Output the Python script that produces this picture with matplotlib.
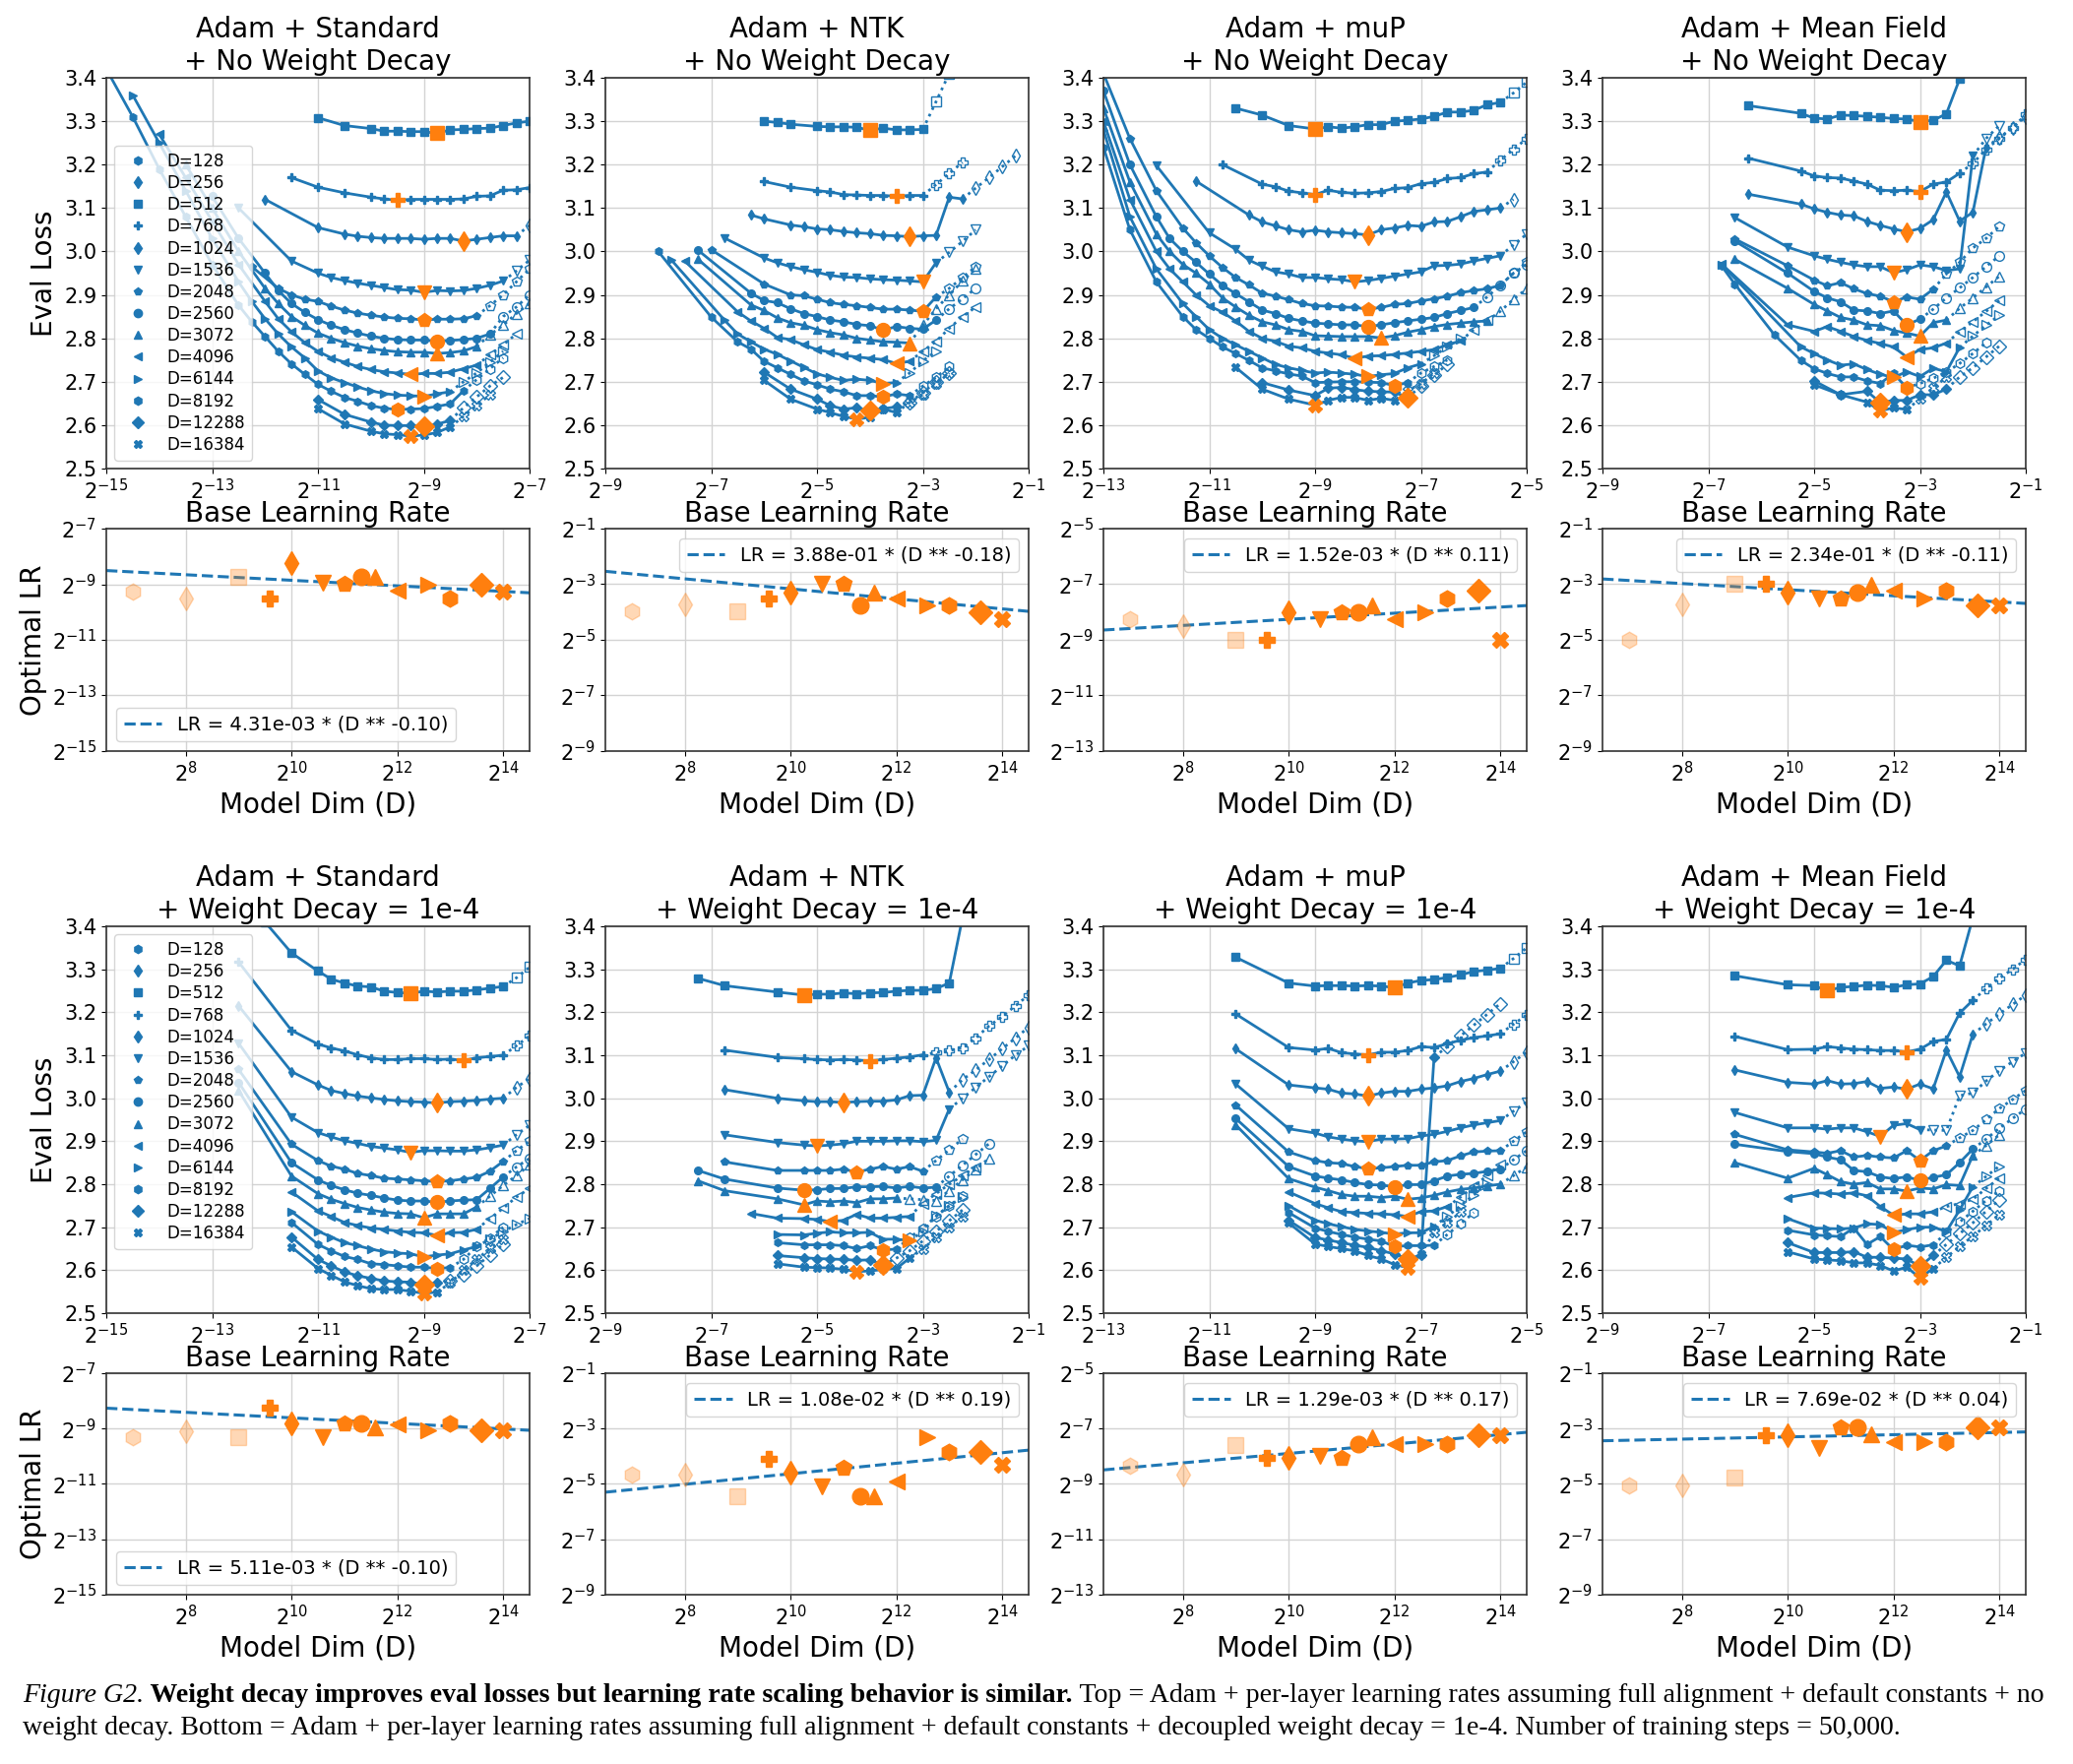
import numpy as np
import matplotlib.pyplot as plt
from matplotlib.lines import Line2D
from matplotlib.ticker import FixedLocator, FuncFormatter, NullLocator

# model dims and their markers
dims = [128, 256, 512, 768, 1024, 1536, 2048, 2560, 3072, 4096, 6144, 8192, 12288, 16384]
markers = ['h', 'd', 's', 'P', 'd', 'v', 'p', 'o', '^', '<', '>', 'h', 'D', 'X']
curve_markers = markers[2:]          # loss curves are shown for D >= 512

param_names = ['Standard', 'NTK', 'muP', 'Mean Field']
wd_names = ['No Weight Decay', 'Weight Decay = 1e-4']
log2_range = [(-15, -7), (-9, -1), (-13, -5), (-9, -1)]

# Loss sweeps. Each curve: (leading log2 LRs, eval losses, losses of the dotted/unstable runs).
# LRs after the leading ones go up in steps of 2**0.25, dotted runs continue the same way.
std_nowd = [
    ([-11, -10.5, -10], [3.308, 3.29, 3.283, 3.277, 3.277, 3.276, 3.276, 3.272, 3.28, 3.281, 3.283, 3.284, 3.29, 3.296, 3.30], []),
    ([-11.5, -11, -10.5, -10], [3.17, 3.148, 3.135, 3.125, 3.121, 3.118, 3.12, 3.12, 3.12, 3.12, 3.121, 3.127, 3.128, 3.141, 3.142, 3.147], []),
    ([-12, -11, -10.5], [3.12, 3.055, 3.04, 3.035, 3.032, 3.03, 3.03, 3.03, 3.028, 3.03, 3.03, 3.024, 3.028, 3.032, 3.036, 3.036], [3.06]),
    ([-12.5, -11.5, -11], [3.1, 2.978, 2.95, 2.94, 2.933, 2.927, 2.922, 2.917, 2.912, 2.911, 2.906, 2.91, 2.909, 2.91, 2.915, 2.922, 2.932], [2.955, 2.98]),
    ([-12.25, -11.75], [2.965, 2.915, 2.9, 2.89, 2.885, 2.874, 2.865, 2.858, 2.853, 2.849, 2.846, 2.845, 2.842, 2.844, 2.844, 2.845, 2.852], [2.875, 2.9, 2.93, 2.96]),
    ([-13, -12.5, -12], [3.127, 3.03, 2.95, 2.91, 2.88, 2.86, 2.843, 2.83, 2.82, 2.812, 2.805, 2.8, 2.797, 2.796, 2.796, 2.793, 2.795, 2.797, 2.8, 2.81], [2.85, 2.872, 2.9]),
    ([-13.5, -13, -12.5, -12], [3.2, 3.1, 3.0, 2.915, 2.88, 2.85, 2.83, 2.812, 2.8, 2.79, 2.782, 2.776, 2.772, 2.769, 2.768, 2.768, 2.765, 2.767, 2.771, 2.781], [2.808, 2.83, 2.857, 2.88]),
    ([-14, -13.5, -13, -12.5, -12], [3.27, 3.17, 3.07, 2.97, 2.885, 2.845, 2.815, 2.79, 2.77, 2.755, 2.745, 2.735, 2.728, 2.723, 2.72, 2.717, 2.719, 2.719, 2.722, 2.73, 2.738], [2.762, 2.785, 2.81]),
    ([-14.5, -14, -13.5, -13, -12.5], [3.36, 3.25, 3.14, 3.03, 2.93, 2.885, 2.845, 2.81, 2.78, 2.755, 2.725, 2.709, 2.698, 2.688, 2.679, 2.673, 2.669, 2.668, 2.666, 2.672, 2.677], [2.70, 2.72, 2.745, 2.77]),
    ([-15, -14.5, -14, -13.5, -13, -12.5], [3.42, 3.31, 3.19, 3.08, 2.97, 2.876, 2.838, 2.804, 2.77, 2.741, 2.717, 2.694, 2.678, 2.664, 2.655, 2.645, 2.639, 2.636, 2.637, 2.638, 2.643, 2.649, 2.679], [2.705, 2.73, 2.755]),
    ([-11, -10.5, -10], [2.659, 2.625, 2.607, 2.6, 2.599, 2.599, 2.597, 2.602, 2.611], [2.64, 2.665, 2.69, 2.71]),
    ([-11, -10.5, -10], [2.638, 2.603, 2.586, 2.58, 2.578, 2.575, 2.577, 2.583, 2.596], [2.62, 2.645, 2.67]),
]
ntk_nowd = [
    ([-6, -5.75, -5.5, -5], [3.30, 3.297, 3.293, 3.288, 3.287, 3.287, 3.286, 3.279, 3.284, 3.28, 3.28, 3.281], [3.345, 3.41]),
    ([-6, -5.5, -5], [3.161, 3.148, 3.14, 3.137, 3.131, 3.13, 3.129, 3.129, 3.127, 3.129, 3.129], [3.154, 3.18, 3.205]),
    ([-6.25, -6, -5.5], [3.084, 3.075, 3.061, 3.057, 3.052, 3.05, 3.046, 3.043, 3.041, 3.037, 3.036, 3.034, 3.036, 3.037, 3.125, 3.121], [3.146, 3.17, 3.195, 3.22]),
    ([-6.75, -6], [3.031, 2.985, 2.974, 2.965, 2.958, 2.952, 2.945, 2.941, 2.94, 2.937, 2.935, 2.934, 2.932, 2.93, 2.974], [2.998, 3.023, 3.05]),
    ([-7, -6, -5.5], [3.004, 2.925, 2.90, 2.898, 2.89, 2.882, 2.878, 2.875, 2.871, 2.867, 2.867, 2.865, 2.862, 2.895], [2.915, 2.94, 2.965]),
    ([-7.25, -6.25], [3.003, 2.904, 2.887, 2.882, 2.868, 2.857, 2.85, 2.842, 2.838, 2.832, 2.829, 2.819, 2.827, 2.823, 2.821, 2.842], [2.868, 2.891, 2.915]),
    ([-7.25, -6.25], [2.982, 2.877, 2.864, 2.847, 2.836, 2.83, 2.82, 2.813, 2.808, 2.8, 2.796, 2.792, 2.791, 2.789], [2.83, 2.868, 2.90, 2.932, 2.96]),
    ([-7.5, -6.5], [2.978, 2.861, 2.84, 2.823, 2.802, 2.797, 2.785, 2.774, 2.768, 2.761, 2.757, 2.754, 2.751, 2.742, 2.747], [2.77, 2.793, 2.823, 2.85, 2.872]),
    ([-7.75, -6.75], [2.98, 2.842, 2.81, 2.792, 2.775, 2.763, 2.748, 2.733, 2.718, 2.71, 2.703, 2.706, 2.703, 2.696, 2.698], [2.72, 2.748, 2.77]),
    ([-8, -7, -6.5], [3.0, 2.849, 2.792, 2.775, 2.747, 2.732, 2.717, 2.702, 2.693, 2.683, 2.677, 2.668, 2.668, 2.665, 2.672, 2.668], [2.69, 2.71, 2.735]),
    ([-6, -5.5, -5], [2.722, 2.683, 2.66, 2.645, 2.637, 2.64, 2.633, 2.638, 2.642], [2.652, 2.675, 2.70, 2.72]),
    ([-6, -5.5, -5], [2.703, 2.66, 2.637, 2.629, 2.62, 2.614, 2.618, 2.637, 2.629], [2.652, 2.67, 2.695, 2.72]),
]
mup_nowd = [
    ([-10.5, -10, -9.5, -9], [3.33, 3.314, 3.29, 3.282, 3.287, 3.284, 3.287, 3.292, 3.292, 3.30, 3.302, 3.305, 3.311, 3.321, 3.321, 3.325, 3.338, 3.343], [3.365, 3.39]),
    ([-10.75, -10], [3.20, 3.155, 3.149, 3.139, 3.135, 3.131, 3.141, 3.136, 3.134, 3.135, 3.138, 3.145, 3.147, 3.156, 3.159, 3.168, 3.17, 3.179, 3.183], [3.21, 3.235, 3.26]),
    ([-11.25, -10.25], [3.162, 3.084, 3.068, 3.059, 3.05, 3.045, 3.049, 3.045, 3.043, 3.041, 3.038, 3.05, 3.054, 3.06, 3.058, 3.068, 3.069, 3.08, 3.092, 3.096, 3.10], [3.12]),
    ([-12, -11, -10.5], [3.198, 3.043, 3.005, 2.98, 2.966, 2.953, 2.948, 2.94, 2.94, 2.937, 2.935, 2.93, 2.933, 2.938, 2.943, 2.948, 2.953, 2.967, 2.968, 2.971, 2.978, 2.984, 2.99], [3.015, 3.04]),
    ([-13, -12.5, -12, -11.5], [3.41, 3.26, 3.14, 3.054, 3.02, 2.99, 2.963, 2.94, 2.923, 2.904, 2.897, 2.889, 2.88, 2.875, 2.874, 2.872, 2.871, 2.867, 2.871, 2.878, 2.88, 2.886, 2.891, 2.897, 2.905, 2.91, 2.914, 2.922], [2.95, 2.975]),
    ([-13, -12.5, -12], [3.37, 3.2, 3.08, 3.03, 3.0, 2.975, 2.948, 2.922, 2.903, 2.884, 2.865, 2.857, 2.846, 2.84, 2.835, 2.833, 2.831, 2.831, 2.827, 2.831, 2.836, 2.84, 2.844, 2.848, 2.857, 2.864, 2.871], [2.895, 2.922, 2.95, 2.97]),
    ([-13, -12.5, -12], [3.33, 3.16, 3.04, 3.0, 2.97, 2.95, 2.925, 2.893, 2.872, 2.853, 2.838, 2.831, 2.82, 2.816, 2.806, 2.805, 2.804, 2.804, 2.804, 2.801, 2.806, 2.814, 2.82, 2.827, 2.832, 2.835, 2.838, 2.84], [2.862, 2.89, 2.914]),
    ([-13, -12.5, -12], [3.3, 3.12, 3.0, 2.96, 2.93, 2.9, 2.875, 2.86, 2.84, 2.816, 2.8, 2.793, 2.782, 2.778, 2.77, 2.766, 2.762, 2.754, 2.759, 2.76, 2.763, 2.766, 2.77, 2.774, 2.785, 2.794], [2.82, 2.842]),
    ([-13, -12.5, -12, -11.5], [3.28, 3.08, 2.96, 2.88, 2.85, 2.82, 2.8, 2.785, 2.77, 2.755, 2.74, 2.732, 2.726, 2.72, 2.722, 2.72, 2.717, 2.712, 2.716, 2.719, 2.732, 2.741], [2.76, 2.78, 2.80]),
    ([-13, -12.5, -12, -11.5], [3.24, 3.05, 2.93, 2.85, 2.82, 2.8, 2.78, 2.765, 2.749, 2.732, 2.725, 2.718, 2.713, 2.698, 2.699, 2.7, 2.7, 2.699, 2.698, 2.691, 2.698], [2.72, 2.735, 2.75]),
    ([-10, -9.5, -9], [2.698, 2.681, 2.668, 2.685, 2.687, 2.682, 2.678, 2.677, 2.676, 2.663], [2.69, 2.715, 2.74]),
    ([-10.5, -10, -9.5, -9], [2.733, 2.683, 2.66, 2.646, 2.657, 2.664, 2.664, 2.657, 2.662, 2.657], [2.68, 2.695, 2.72]),
]
mf_nowd = [
    ([-6.25, -5.25], [3.336, 3.318, 3.307, 3.305, 3.314, 3.313, 3.311, 3.309, 3.306, 3.305, 3.299, 3.302, 3.317, 3.397, 3.48], []),
    ([-6.25, -5.25], [3.215, 3.185, 3.174, 3.17, 3.169, 3.162, 3.155, 3.141, 3.14, 3.141, 3.138, 3.155, 3.16, 3.18], [3.203, 3.235, 3.26, 3.285, 3.315]),
    ([-6.25, -5.25], [3.132, 3.109, 3.098, 3.09, 3.084, 3.082, 3.069, 3.06, 3.052, 3.045, 3.053, 3.073, 3.137, 3.07, 3.09, 3.24], [3.262, 3.285, 3.31]),
    ([-6.5, -5.5, -5], [3.078, 3.01, 2.99, 2.982, 2.975, 2.969, 2.965, 2.965, 2.951, 2.958, 2.969, 2.965, 2.956, 2.96, 3.22], [3.26, 3.29]),
    ([-6.5, -5.5, -5], [3.029, 2.967, 2.934, 2.921, 2.928, 2.914, 2.903, 2.897, 2.884, 2.895, 2.89, 2.913], [2.948, 2.975, 3.008, 3.03, 3.058]),
    ([-6.5, -5.5, -5], [3.024, 2.95, 2.908, 2.893, 2.884, 2.865, 2.863, 2.857, 2.863, 2.831, 2.844], [2.867, 2.893, 2.916, 2.94, 2.965, 2.99]),
    ([-6.5, -5.5, -5], [2.982, 2.915, 2.878, 2.863, 2.848, 2.842, 2.831, 2.829, 2.818, 2.812, 2.805, 2.836, 2.842], [2.869, 2.893, 2.918, 2.943]),
    ([-6.75, -5.5, -5], [2.971, 2.831, 2.816, 2.827, 2.816, 2.804, 2.795, 2.788, 2.78, 2.757, 2.774, 2.778, 2.789], [2.815, 2.838, 2.862, 2.887]),
    ([-6.75, -5.25], [2.97, 2.78, 2.765, 2.75, 2.738, 2.741, 2.728, 2.717, 2.71, 2.723, 2.712, 2.731, 2.723, 2.779], [2.805, 2.83, 2.853]),
    ([-6.75, -6.5, -5.75, -5.25], [2.967, 2.925, 2.808, 2.749, 2.73, 2.719, 2.711, 2.711, 2.702, 2.696, 2.719, 2.686], [2.696, 2.708, 2.722, 2.742, 2.765, 2.79]),
    ([-5, -4.5, -4], [2.702, 2.67, 2.678, 2.652, 2.657, 2.657, 2.67, 2.67, 2.683], [2.711, 2.732, 2.757, 2.782]),
    ([-5, -4.5, -4], [2.693, 2.67, 2.653, 2.633, 2.64, 2.636], [2.66, 2.685, 2.711]),
]
std_wd = [
    ([-12, -11.5, -11], [3.41, 3.338, 3.296, 3.277, 3.268, 3.261, 3.259, 3.249, 3.246, 3.244, 3.249, 3.247, 3.249, 3.249, 3.252, 3.256, 3.26], [3.28, 3.305]),
    ([-12.5, -11.5, -11], [3.317, 3.158, 3.126, 3.117, 3.11, 3.101, 3.094, 3.09, 3.09, 3.092, 3.092, 3.09, 3.091, 3.088, 3.094, 3.097, 3.10], [3.122, 3.145]),
    ([-12.5, -11.5, -11], [3.215, 3.062, 3.031, 3.018, 3.011, 3.005, 3.001, 2.997, 2.994, 2.992, 2.991, 2.989, 2.992, 2.993, 2.995, 2.998, 3.0], [3.025, 3.046]),
    ([-12.5, -11.5, -11], [3.128, 2.956, 2.92, 2.91, 2.901, 2.895, 2.888, 2.884, 2.88, 2.874, 2.878, 2.878, 2.877, 2.877, 2.88, 2.885, 2.891], [2.915, 2.937]),
    ([-12.5, -11.5, -11], [3.067, 2.893, 2.855, 2.842, 2.835, 2.825, 2.82, 2.814, 2.812, 2.81, 2.808, 2.806, 2.808, 2.812, 2.816, 2.83, 2.853], [2.878, 2.9]),
    ([-12.5, -11.5, -11], [3.037, 2.85, 2.81, 2.797, 2.787, 2.779, 2.774, 2.768, 2.763, 2.761, 2.761, 2.758, 2.761, 2.763, 2.764, 2.79, 2.817], [2.84, 2.86]),
    ([-12.5, -11.5, -11], [3.018, 2.819, 2.778, 2.765, 2.755, 2.746, 2.74, 2.735, 2.732, 2.731, 2.722, 2.731, 2.731, 2.731, 2.747], [2.772, 2.797, 2.82, 2.845]),
    ([-11.5, -11], [2.782, 2.738, 2.725, 2.711, 2.704, 2.698, 2.695, 2.691, 2.688, 2.687, 2.681, 2.687, 2.688, 2.695], [2.72, 2.744, 2.77, 2.79]),
    ([-11.5, -11], [2.736, 2.691, 2.677, 2.664, 2.657, 2.649, 2.643, 2.64, 2.638, 2.631, 2.635, 2.638, 2.647, 2.655], [2.672, 2.69, 2.706, 2.72]),
    ([-11.5, -11], [2.711, 2.66, 2.645, 2.632, 2.625, 2.615, 2.613, 2.61, 2.607, 2.607, 2.604, 2.606], [2.625, 2.655, 2.675, 2.70]),
    ([-11.5, -11], [2.677, 2.625, 2.61, 2.596, 2.587, 2.581, 2.575, 2.573, 2.572, 2.567, 2.57], [2.575, 2.59, 2.61, 2.635, 2.66]),
    ([-11.5, -11], [2.654, 2.604, 2.588, 2.573, 2.564, 2.557, 2.555, 2.555, 2.551, 2.546, 2.549], [2.57, 2.6, 2.625, 2.65, 2.672]),
]
ntk_wd = [
    ([-7.25, -6.75, -5.75, -5.25], [3.279, 3.262, 3.247, 3.24, 3.242, 3.242, 3.245, 3.243, 3.245, 3.246, 3.249, 3.251, 3.251, 3.255, 3.268, 3.42], []),
    ([-6.75, -5.75, -5.25], [3.112, 3.095, 3.092, 3.09, 3.089, 3.09, 3.089, 3.087, 3.09, 3.093, 3.096, 3.101], [3.106, 3.111, 3.117, 3.14, 3.168, 3.19, 3.215, 3.24]),
    ([-6.75, -5.75, -5.25], [3.02, 3.0, 2.994, 2.992, 2.992, 2.99, 2.992, 2.993, 2.993, 2.996, 3.006, 3.007, 3.094, 3.014], [3.043, 3.066, 3.09, 3.115, 3.14, 3.165]),
    ([-6.75, -5.75, -5.25], [2.915, 2.897, 2.891, 2.889, 2.891, 2.894, 2.9, 2.9, 2.9, 2.901, 2.901, 2.899, 2.902, 2.975], [3.0, 3.025, 3.05, 3.075, 3.1, 3.122]),
    ([-6.75, -5.75, -5.25], [2.852, 2.832, 2.832, 2.832, 2.832, 2.835, 2.828, 2.835, 2.841, 2.835, 2.841, 2.83], [2.855, 2.88, 2.905]),
    ([-7.25, -6.75, -5.75, -5.25], [2.832, 2.812, 2.791, 2.786, 2.787, 2.79, 2.79, 2.794, 2.794, 2.795, 2.791, 2.795, 2.791, 2.793], [2.819, 2.844, 2.869, 2.894]),
    ([-7.25, -6.75, -5.75, -5.25], [2.808, 2.785, 2.766, 2.752, 2.761, 2.759, 2.761, 2.757, 2.766, 2.766, 2.768], [2.766, 2.764, 2.762, 2.785, 2.81, 2.835, 2.86]),
    ([-6.25, -5.75, -5.25], [2.732, 2.721, 2.72, 2.718, 2.713, 2.716, 2.73, 2.721, 2.721, 2.723, 2.725], [2.755, 2.778, 2.8, 2.82, 2.84]),
    ([-5.75, -5.25], [2.683, 2.682, 2.686, 2.689, 2.687, 2.687, 2.688, 2.672, 2.672, 2.669], [2.69, 2.726, 2.75, 2.77]),
    ([-5.75, -5.25], [2.664, 2.659, 2.659, 2.659, 2.657, 2.65, 2.657, 2.647, 2.649], [2.676, 2.698, 2.725, 2.75, 2.773]),
    ([-5.75, -5.25], [2.634, 2.629, 2.627, 2.626, 2.625, 2.623, 2.624, 2.612], [2.628, 2.645, 2.668, 2.69, 2.715, 2.74]),
    ([-5.75, -5.25], [2.615, 2.607, 2.606, 2.605, 2.602, 2.597, 2.598, 2.602, 2.604, 2.628], [2.649, 2.676, 2.70, 2.725]),
]
mup_wd = [
    ([-10.5, -9.5, -9], [3.328, 3.268, 3.261, 3.262, 3.262, 3.261, 3.262, 3.261, 3.257, 3.268, 3.274, 3.276, 3.281, 3.287, 3.295, 3.298, 3.302], [3.325, 3.35]),
    ([-10.5, -9.5, -9], [3.196, 3.118, 3.112, 3.116, 3.106, 3.103, 3.101, 3.107, 3.107, 3.111, 3.12, 3.118, 3.127, 3.135, 3.141, 3.145, 3.15], [3.172, 3.194]),
    ([-10.5, -9.5, -9], [3.115, 3.031, 3.024, 3.021, 3.012, 3.01, 3.005, 3.012, 3.016, 3.016, 3.021, 3.024, 3.029, 3.039, 3.046, 3.055, 3.063], [3.085, 3.107]),
    ([-10.5, -9.5, -9], [3.033, 2.929, 2.919, 2.91, 2.905, 2.901, 2.899, 2.905, 2.905, 2.906, 2.912, 2.916, 2.923, 2.931, 2.938, 2.943, 2.948], [2.97, 2.991]),
    ([-10.5, -9.5, -9], [2.984, 2.875, 2.855, 2.85, 2.848, 2.841, 2.836, 2.838, 2.841, 2.844, 2.844, 2.852, 2.855, 2.866, 2.875, 2.877, 2.878], [2.9, 2.922]),
    ([-10.5, -9.5, -9], [2.953, 2.841, 2.819, 2.814, 2.81, 2.804, 2.799, 2.798, 2.794, 2.799, 2.799, 2.808, 2.819, 2.823, 2.825, 2.83, 2.835], [2.857, 2.878]),
    ([-10.5, -9.5, -9], [2.938, 2.813, 2.793, 2.785, 2.776, 2.772, 2.772, 2.769, 2.772, 2.765, 2.768, 2.774, 2.782, 2.788, 2.791, 2.796, 2.8], [2.82, 2.84]),
    ([-9.5, -9], [2.782, 2.755, 2.745, 2.736, 2.734, 2.732, 2.731, 2.729, 2.725, 2.736, 2.738, 2.748], [2.77, 2.795, 2.82, 2.845]),
    ([-9.5, -9], [2.75, 2.716, 2.708, 2.701, 2.695, 2.691, 2.688, 2.684, 2.687, 2.687, 2.702], [2.725, 2.75, 2.775, 2.8]),
    ([-9.5, -9], [2.734, 2.698, 2.69, 2.683, 2.677, 2.672, 2.668, 2.655, 2.657, 2.657, 2.658], [2.683, 2.708, 2.734]),
    ([-9.5, -9], [2.716, 2.676, 2.67, 2.664, 2.658, 2.653, 2.645, 2.638, 2.626, 2.635, 3.096], [3.12, 3.145, 3.17, 3.195, 3.22]),
    ([-9.5, -9], [2.71, 2.661, 2.655, 2.65, 2.645, 2.634, 2.626, 2.613, 2.606, 2.638], [2.687, 2.71, 2.735]),
]
mf_wd = [
    ([-6.5, -5.5, -5], [3.285, 3.264, 3.262, 3.25, 3.258, 3.26, 3.263, 3.262, 3.258, 3.264, 3.266, 3.283, 3.321, 3.308, 3.42], []),
    ([-6.5, -5.5, -5], [3.144, 3.113, 3.114, 3.12, 3.117, 3.114, 3.113, 3.111, 3.111, 3.108, 3.114, 3.132, 3.137, 3.198, 3.228], [3.255, 3.279, 3.3, 3.323]),
    ([-6.5, -5.5, -5], [3.066, 3.037, 3.033, 3.041, 3.033, 3.034, 3.039, 3.023, 3.026, 3.021, 3.033, 3.022, 3.112, 3.05, 3.149], [3.173, 3.196, 3.218, 3.24]),
    ([-6.5, -5.5, -5], [2.967, 2.931, 2.931, 2.928, 2.931, 2.931, 2.922, 2.911, 2.937, 2.941, 2.927], [2.926, 2.925, 3.006, 3.012, 3.04, 3.064, 3.085, 3.105]),
    ([-6.5, -5.5, -5], [2.916, 2.88, 2.875, 2.872, 2.878, 2.863, 2.867, 2.863, 2.861, 2.878, 2.855, 2.878, 2.889], [2.908, 2.925, 2.95, 2.976, 2.997, 3.018]),
    ([-6.5, -5.5, -5], [2.893, 2.876, 2.871, 2.863, 2.857, 2.832, 2.829, 2.817, 2.813, 2.817, 2.809, 2.816, 2.822, 2.85, 2.882], [2.905, 2.93, 2.953, 2.975]),
    ([-6.5, -5.5, -5], [2.85, 2.814, 2.837, 2.822, 2.806, 2.8, 2.804, 2.789, 2.789, 2.784, 2.791, 2.789, 2.799, 2.797, 2.867], [2.89, 2.915]),
    ([-5.5, -5], [2.769, 2.78, 2.779, 2.777, 2.78, 2.773, 2.748, 2.728, 2.731, 2.731, 2.736], [2.748, 2.755, 2.765, 2.79, 2.814]),
    ([-5.5, -5], [2.72, 2.698, 2.697, 2.696, 2.698, 2.708, 2.706, 2.688, 2.694, 2.7, 2.7, 2.69, 2.74, 2.794], [2.818, 2.842]),
    ([-5.5, -5], [2.693, 2.682, 2.68, 2.678, 2.698, 2.66, 2.678, 2.648, 2.658, 2.654, 2.659], [2.687, 2.712, 2.737, 2.762, 2.785]),
    ([-5.5, -5], [2.664, 2.641, 2.641, 2.641, 2.643, 2.63, 2.63, 2.628, 2.626, 2.609, 2.634], [2.66, 2.685, 2.71, 2.737, 2.763]),
    ([-5.5, -5], [2.643, 2.626, 2.624, 2.622, 2.617, 2.617, 2.611, 2.598, 2.607, 2.582, 2.604], [2.63, 2.655, 2.679, 2.704, 2.729]),
]

# optimal LR per model dim, log2
opt_std_nowd = [-9.25, -9.5, -8.73, -9.5, -8.25, -8.94, -8.98, -8.73, -8.73, -9.23, -9.0, -9.5, -9.0, -9.25]
opt_ntk_nowd = [-3.98, -3.73, -3.98, -3.52, -3.29, -2.97, -3.0, -3.75, -3.29, -3.5, -3.75, -3.75, -4.0, -4.24]
opt_mup_nowd = [-8.24, -8.5, -9.0, -9.0, -8.0, -8.27, -8.0, -8.0, -7.75, -8.27, -8.0, -7.5, -7.23, -9.0]
opt_mf_nowd = [-5.0, -3.73, -3.0, -3.0, -3.29, -3.5, -3.5, -3.29, -3.03, -3.23, -3.5, -3.23, -3.75, -3.75]
opt_std_wd = [-9.3, -9.1, -9.3, -8.26, -8.8, -9.3, -8.8, -8.8, -8.95, -8.85, -9.05, -8.8, -9.05, -9.05]
opt_ntk_wd = [-4.65, -4.65, -5.45, -4.1, -4.6, -5.1, -4.4, -5.45, -5.45, -4.9, -3.3, -3.85, -3.85, -4.3]
opt_mup_wd = [-8.35, -8.65, -7.6, -8.05, -8.05, -8.0, -8.05, -7.55, -7.3, -7.55, -7.55, -7.55, -7.25, -7.25]
opt_mf_wd = [-5.07, -5.07, -4.77, -3.25, -3.25, -3.7, -2.95, -2.95, -3.2, -3.5, -3.5, -3.5, -2.95, -2.95]

# power law fits LR = a * D**b
fit_nowd = [(4.31e-3, -0.10), (3.88e-1, -0.18), (1.52e-3, 0.11), (2.34e-1, -0.11)]
fit_wd = [(5.11e-3, -0.10), (1.08e-2, 0.19), (1.29e-3, 0.17), (7.69e-2, 0.04)]

loss_data = [[std_nowd, ntk_nowd, mup_nowd, mf_nowd], [std_wd, ntk_wd, mup_wd, mf_wd]]
opt_data = [[opt_std_nowd, opt_ntk_nowd, opt_mup_nowd, opt_mf_nowd],
            [opt_std_wd, opt_ntk_wd, opt_mup_wd, opt_mf_wd]]
fit_data = [fit_nowd, fit_wd]

pow2_fmt = FuncFormatter(lambda v, p: '$2^{%d}$' % int(round(np.log2(v))))

W, H = 2106, 1792
fig = plt.figure(figsize=(W / 100, H / 100), dpi=100)
lefts = [108, 615, 1121, 1628]
rows = [(79, 476), (537, 763), (941, 1334), (1395, 1620)]


def new_axes(col, row):
    top, bot = rows[row]
    return fig.add_axes([lefts[col] / W, 1 - bot / H, 430 / W, (bot - top) / H])


def style(ax):
    ax.grid(True, color='#d3d3d3', lw=1)
    ax.set_axisbelow(True)
    ax.tick_params(labelsize=15)
    for s in ax.spines.values():
        s.set_linewidth(1.2)
        s.set_color('#333333')


def draw_loss(ax, curves, lo, hi):
    for m, (lead, losses, dotted) in zip(curve_markers, curves):
        n_fine = len(losses) - len(lead)
        xs = np.concatenate([lead, lead[-1] + 0.25 * np.arange(1, n_fine + 1)])
        lr = 2.0 ** xs
        ax.plot(lr, losses, color='C0', lw=2, marker=m, ms=5.5, zorder=2)
        i = int(np.argmin(losses))
        ax.plot(lr[i], losses[i], color='C1', marker=m, ms=10, ls='none', zorder=4)
        if dotted:
            xd = xs[-1] + 0.25 * np.arange(1, len(dotted) + 1)
            ax.plot(np.r_[lr[-1], 2.0 ** xd], np.r_[losses[-1], dotted], color='C0', ls=':', lw=2, zorder=1)
            ax.plot(2.0 ** xd, dotted, ls='none', marker=m, ms=7, mfc='none', mec='C0', mew=1, zorder=1)
    ax.set_xscale('log', base=2)
    ax.set_xlim(2.0 ** lo, 2.0 ** hi)
    ax.set_ylim(2.5, 3.4)
    ax.xaxis.set_major_locator(FixedLocator(2.0 ** np.arange(lo, hi + 1, 2)))
    ax.xaxis.set_major_formatter(pow2_fmt)
    ax.xaxis.set_minor_locator(NullLocator())
    ax.set_yticks(np.round(np.arange(2.5, 3.41, 0.1), 1))
    ax.yaxis.set_major_formatter(FuncFormatter(lambda v, p: '%.1f' % v))
    style(ax)


def draw_lr(ax, opt, fit, lo, hi, loc):
    a, b = fit
    dd = np.array([2 ** 6.5, 2 ** 14.5])
    ax.plot(dd, a * dd ** b, '--', color='C0', lw=2.2, zorder=2,
            label='LR = %.2e * (D ** %.2f)' % (a, b))
    for k, (d, m, v) in enumerate(zip(dims, markers, opt)):
        ax.plot(d, 2.0 ** v, marker=m, color='C1', ms=12, ls='none',
                alpha=0.3 if k < 3 else 1.0, zorder=3)
    ax.set_xscale('log', base=2)
    ax.set_yscale('log', base=2)
    ax.set_xlim(2 ** 6.5, 2 ** 14.5)
    ax.set_ylim(2.0 ** lo, 2.0 ** hi)
    ax.xaxis.set_major_locator(FixedLocator(2.0 ** np.array([8, 10, 12, 14])))
    ax.yaxis.set_major_locator(FixedLocator(2.0 ** np.arange(lo, hi + 1, 2)))
    for axis in (ax.xaxis, ax.yaxis):
        axis.set_major_formatter(pow2_fmt)
        axis.set_minor_locator(NullLocator())
    ax.legend(loc=loc, fontsize=14)
    ax.set_title('Base Learning Rate', fontsize=20, pad=5)
    ax.set_xlabel('Model Dim (D)', fontsize=20)
    style(ax)


for r in range(2):
    for c in range(4):
        lo, hi = log2_range[c]
        ax = new_axes(c, 2 * r)
        draw_loss(ax, loss_data[r][c], lo, hi)
        ax.set_title('Adam + %s\n+ %s' % (param_names[c], wd_names[r]), fontsize=20)
        if c == 0:
            ax.set_ylabel('Eval Loss', fontsize=20)
            handles = [Line2D([], [], ls='none', marker=m, color='C0', ms=6) for m in markers]
            ax.legend(handles, ['D=%d' % d for d in dims], loc='lower left' if r == 0 else 'upper left',
                      fontsize=12, labelspacing=0.25)
        ax2 = new_axes(c, 2 * r + 1)
        draw_lr(ax2, opt_data[r][c], fit_data[r][c], lo, hi, 'lower left' if c == 0 else 'upper right')
        if c == 0:
            ax2.set_ylabel('Optimal LR', fontsize=20)

# caption with mixed styles
line1 = [('Figure G2.', dict(style='italic')),
         (' Weight decay improves eval losses but learning rate scaling behavior is similar.', dict(weight='bold')),
         (' Top = Adam + per-layer learning rates assuming full alignment + default constants + no', {})]
line2 = [('weight decay. Bottom = Adam + per-layer learning rates assuming full alignment + default constants '
          '+ decoupled weight decay = 1e-4. Number of training steps = 50,000.', {})]


def caption(parts, x0, ybase, size):
    r = fig.canvas.get_renderer()
    x = x0
    texts = []
    for s, kw in parts:
        t = fig.text(x / W, 1 - ybase / H, s, fontsize=size, family='Liberation Serif', va='baseline', **kw)
        x += t.get_window_extent(r).width
        texts.append(t)
    return texts, x - x0


texts, width = caption(line1, 23, 1729, 17)
for t in texts:
    t.remove()
size = 17 * 2052 / width
caption(line1, 23, 1729, size)
caption(line2, 23, 1762, size)

fig.savefig('out.png', dpi=100)
